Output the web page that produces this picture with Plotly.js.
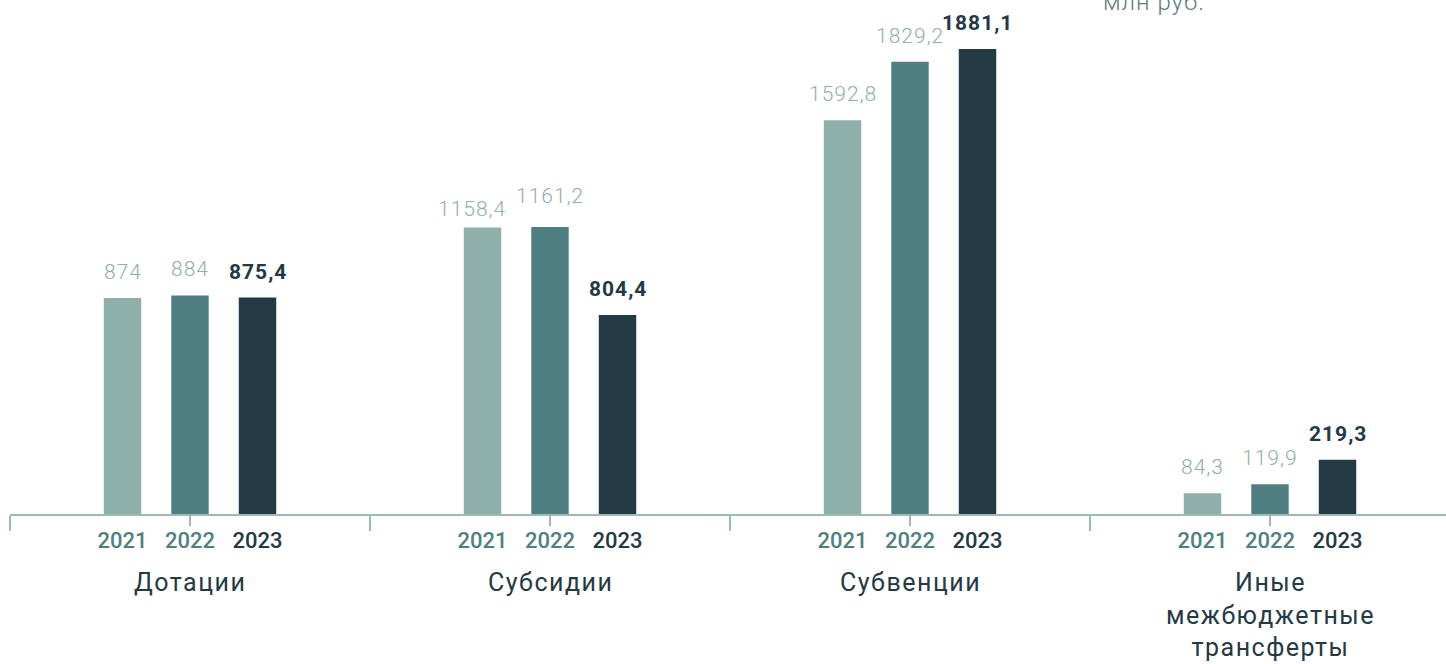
<!DOCTYPE html>
<html><head><meta charset="utf-8">
<script src="https://cdn.plot.ly/plotly-3.0.1.min.js"></script>
<style>
html,body{margin:0;padding:0;background:#fff}
text.annotation-text[style*="font-size: 21px"]{letter-spacing:1px}
text.annotation-text[style*="font-size: 25px"]{letter-spacing:1.5px}
text.annotation-text[style*="font-size: 24px"]{letter-spacing:1px}
</style>
</head><body>
<div id="chart" style="width:1446px;height:664px"></div>
<script>
const categories = ["Дотации", "Субсидии", "Субвенции", "Иные<br>межбюджетные<br>трансферты"];
const years = ["2021", "2022", "2023"];
const values2021 = [874, 1158.4, 1592.8, 84.3];
const values2022 = [884, 1161.2, 1829.2, 119.9];
const values2023 = [875.4, 804.4, 1881.1, 219.3];
const unitLabel = "млн руб.";

const series = [values2021, values2022, values2023];
const barColors = ["#8fb0aa", "#4f7f80", "#233a45"];
const yearColors = ["#4f7f80", "#4f7f80", "#233a45"];
const step = 0.1875;
const barWidth = 0.104;
const fmt = v => String(v).replace('.', ',');
// label nudges (style only) keyed "yearIndex-groupIndex" to avoid overlaps, as in the original
const labelNudge = {"0-1": {dx: -11, dy: -7}, "1-1": {dx: 0, dy: 5}};

const posFor = (yi) => categories.map((c, gi) => gi + (yi - 1) * step);

const traces = series.map((vals, yi) => ({
  type: 'bar', x: posFor(yi), y: vals, width: barWidth,
  marker: {color: barColors[yi], line: {width: 0}},
  hoverinfo: 'none', showlegend: false, xaxis: yi === 2 ? 'x2' : 'x', yaxis: 'y'
}));

const annotations = [];
series.forEach((vals, yi) => {
  const xs = posFor(yi);
  vals.forEach((v, gi) => {
    const bold = yi === 2;
    const n = labelNudge[yi + '-' + gi] || {dx: 0, dy: 0};
    annotations.push({
      x: xs[gi], y: v, xref: 'x', yref: 'y', text: fmt(v), showarrow: false,
      xanchor: 'center', yanchor: 'bottom', yshift: 12 + n.dy, xshift: n.dx,
      font: {family: 'Roboto', size: 21, color: bold ? '#233a45' : '#8fb0aa', weight: bold ? 700 : 300}
    });
  });
});
categories.forEach((c, gi) => {
  annotations.push({
    x: gi, y: 0, xref: 'x', yref: 'paper', text: c, showarrow: false,
    xanchor: 'center', yanchor: 'top', yshift: -52, align: 'center',
    font: {family: 'Roboto', size: 25, color: '#233a45', weight: 400}
  });
});
annotations.push({
  x: (1101 - 10) / 1436, y: 1, xref: 'paper', yref: 'paper', text: unitLabel, showarrow: false,
  xanchor: 'left', yanchor: 'middle', yshift: -2,
  font: {family: 'Roboto', size: 24, color: '#5f7a80', weight: 300}
});

const allPos = [].concat(posFor(0), posFor(1), posFor(2));
const allText = [].concat(
  categories.map(() => `<span style="color:${yearColors[0]}">${years[0]}</span>`),
  categories.map(() => `<span style="color:${yearColors[1]}">${years[1]}</span>`),
  categories.map(() => `<span style="color:${yearColors[2]}">${years[2]}</span>`)
);

const xRange = [-0.5, -0.5 + 1436 / 360];
const layout = {
  width: 1446, height: 664,
  margin: {l: 10, r: 0, t: 0, b: 150, pad: 0},
  paper_bgcolor: '#ffffff', plot_bgcolor: '#ffffff',
  barmode: 'overlay',
  xaxis: {
    range: xRange, showgrid: false, zeroline: false,
    showline: true, linecolor: '#9bbab4', linewidth: 2,
    tickmode: 'linear', tick0: -0.5, dtick: 1, ticks: 'outside', ticklen: 15,
    tickcolor: '#9bbab4', tickwidth: 2, showticklabels: false,
    minor: {tickmode: 'linear', tick0: 0, dtick: 1, ticks: 'outside', ticklen: 10, tickcolor: '#9bbab4', tickwidth: 2, showgrid: false},
    fixedrange: true
  },
  xaxis2: {
    overlaying: 'x', anchor: 'y', side: 'bottom', range: xRange,
    showgrid: false, zeroline: false, showline: false, ticks: '',
    tickmode: 'array', tickvals: allPos, ticktext: allText,
    ticklabelstandoff: 11,
    tickfont: {family: 'Roboto', size: 22, weight: 500, color: '#4f7f80'},
    fixedrange: true
  },
  yaxis: {range: [0, 2079], visible: false, fixedrange: true},
  annotations: annotations,
  showlegend: false
};

Plotly.newPlot('chart', traces, layout, {displayModeBar: false, staticPlot: true});
</script>
</body></html>
